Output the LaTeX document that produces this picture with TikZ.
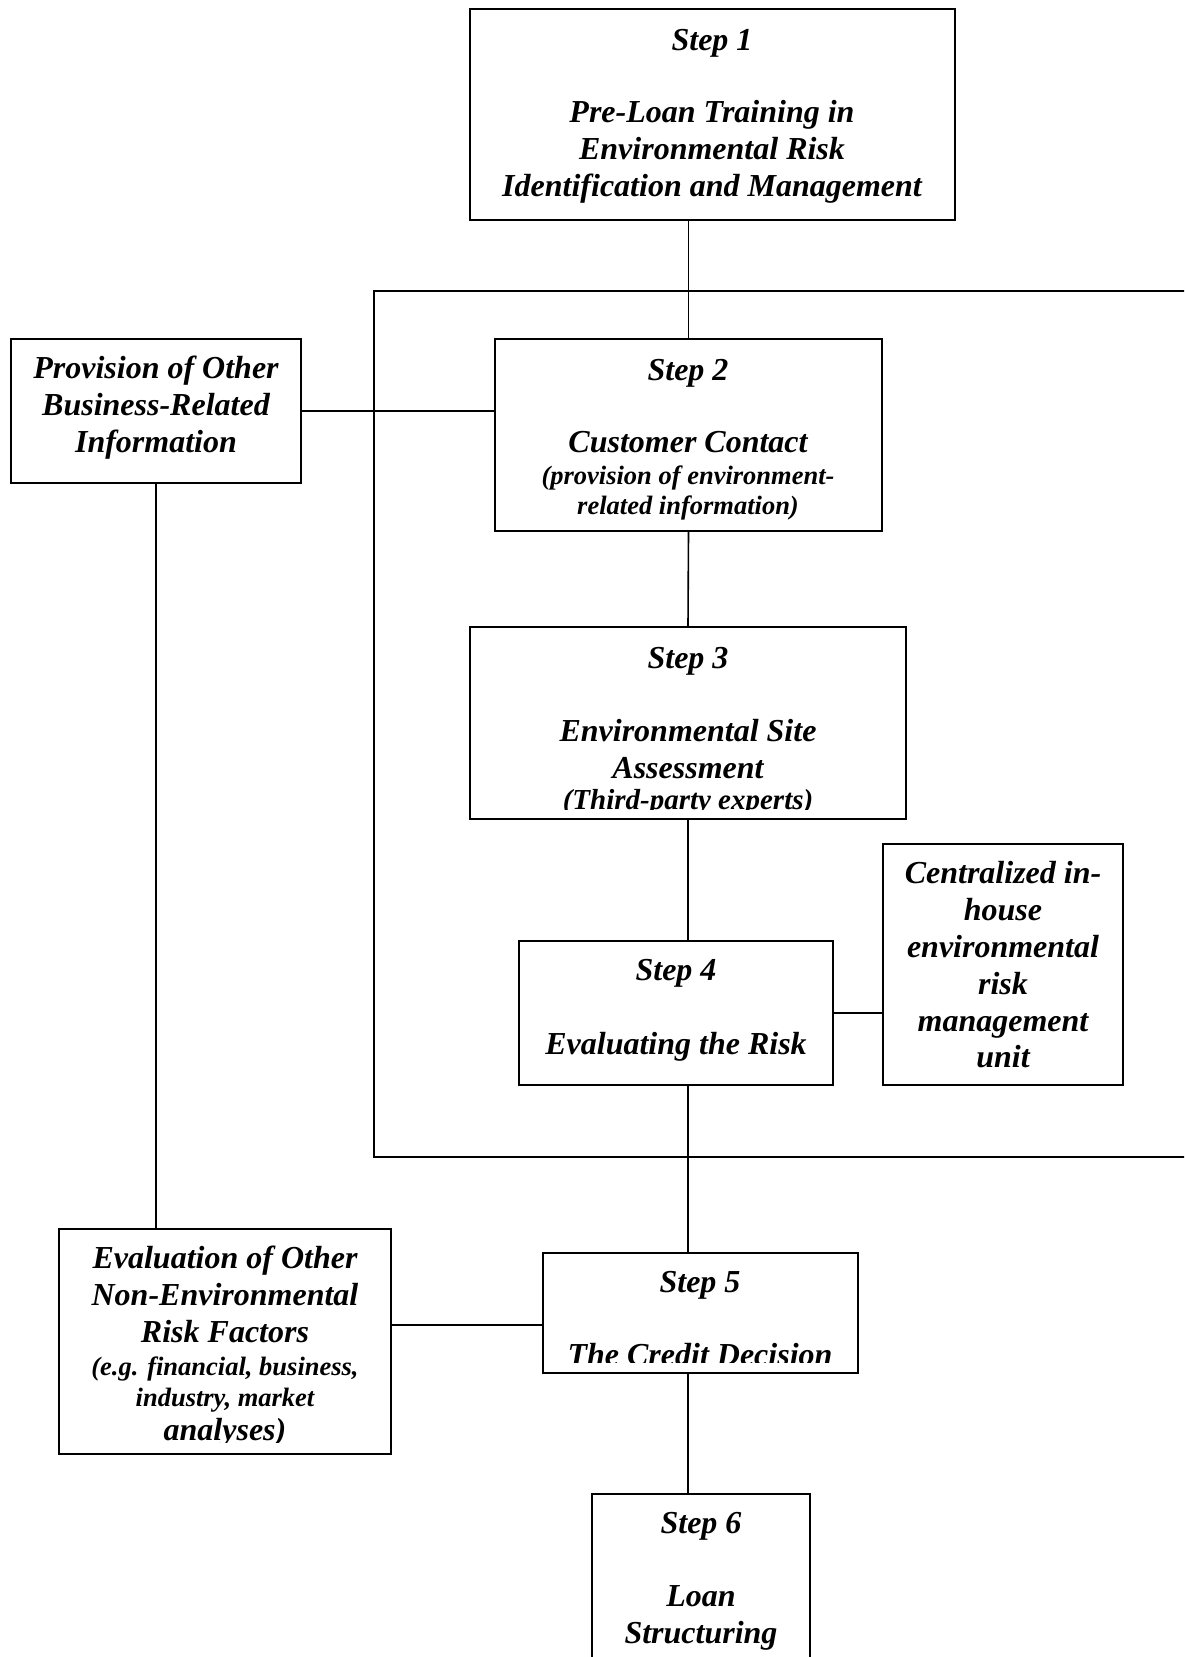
\documentclass[tikz,border=0pt]{standalone}
\usepackage{fontspec}
\setmainfont{Liberation Serif}
\usetikzlibrary{fit}
\begin{document}
\begin{tikzpicture}[x=1pt,y=-1pt,
  box/.style={draw=black,line width=2pt,inner sep=0pt,rectangle},
  conn/.style={draw=black,line width=1.6pt},
  lbl/.style={anchor=base,inner sep=0pt,font=\fontsize{32}{37}\selectfont\bfseries\itshape},
  lblsm/.style={anchor=base,inner sep=0pt,font=\fontsize{26.5}{31}\selectfont\bfseries\itshape},
  lblmd/.style={anchor=base,inner sep=0pt,font=\fontsize{29}{34}\selectfont\bfseries\itshape}]
\clip (0,0) rectangle (1184,1657);
\fill[white] (0,0) rectangle (1184,1657);

% enclosing frame around steps 2 to 4
\node[box,fit={(374,291) (1210,1157)}] (frame) {};

% boxes
\node[box,fit={(470,9) (955,220)}] (s1) {};
\node[box,fit={(495,339) (882,531)}] (s2) {};
\node[box,fit={(11,339) (301,483)}] (prov) {};
\node[box,fit={(470,627) (906,819)}] (s3) {};
\node[box,fit={(519,941) (833,1085)}] (s4) {};
\node[box,fit={(883,844) (1123,1085)}] (cu) {};
\node[box,fit={(543,1253) (858,1373)}] (s5) {};
\node[box,fit={(59,1229) (391,1454)}] (ev) {};
\node[box,fit={(592,1494) (810,1720)}] (s6) {};
\coordinate (j5) at (543,1325);

% connectors
\draw[conn] (s1.south -| s2.north) -- (s2.north);
\draw[conn] (prov.east) -- (prov.east -| s2.west);
\draw[conn] (prov.south) -- (prov.south |- ev.north);
\draw[conn] (s2.south) -- (s3.north);
\draw[conn] (s3.south) -- (s3.south |- s4.north);
\draw[conn] (s4.east) -- (s4.east -| cu.west);
\draw[conn] (s3.south |- s4.south) -- (s3.south |- s5.north);
\draw[conn] (j5 -| ev.east) -- (j5);
\draw[conn] (s3.south |- s5.south) -- (s3.south |- s6.north);

% Step 1
\node[lbl] (t1a) at (712,50) {Step 1};
\node[lbl] (t1b) at (712,122.6) {Pre-Loan Training in};
\node[lbl] (t1c) at (712,159.6) {Environmental Risk};
\node[lbl] (t1d) at (712,196.6) {Identification and Management};

% Step 2
\node[lbl] (t2a) at (688,380.6) {Step 2};
\node[lbl] (t2b) at (688,452.4) {Customer Contact};
\node[lblsm] (t2c) at (688,484.2) {(provision of environment-};
\node[lblsm] (t2d) at (688,514.8) {related information)};

% other business information
\node[lbl] (tpa) at (156,378.4) {Provision of Other};
\node[lbl] (tpb) at (156,415.4) {Business-Related};
\node[lbl] (tpc) at (156,452.4) {Information};

% Step 3
\node[lbl] (t3a) at (688,668) {Step 3};
\node[lbl] (t3b) at (688,741) {Environmental Site};
\node[lbl] (t3c) at (688,778) {Assessment};
\begin{scope}
  \clip (470,627) rectangle (906,809);
  \node[lblmd] (t3d) at (688,809.7) {(Third-party experts)};
\end{scope}

% Step 4
\node[lbl] (t4a) at (676,980) {Step 4};
\node[lbl] (t4b) at (676,1054) {Evaluating the Risk};

% in-house unit
\node[lbl] (tca) at (1003,883.7) {Centralized in-};
\node[lbl] (tcb) at (1003,920.7) {house};
\node[lbl] (tcc) at (1003,957.7) {environmental};
\node[lbl] (tcd) at (1003,994.7) {risk};
\node[lbl] (tce) at (1003,1031.7) {management};
\node[lbl] (tcf) at (1003,1067.7) {unit};

% Step 5
\node[lbl] (t5a) at (700,1292.8) {Step 5};
\begin{scope}
  \clip (543,1253) rectangle (858,1362);
  \node[lbl] (t5b) at (700,1365.8) {The Credit Decision};
\end{scope}

% non-environmental factors
\node[lbl] (tea) at (225,1268.5) {Evaluation of Other};
\node[lbl] (teb) at (225,1305.5) {Non-Environmental};
\node[lbl] (tec) at (225,1342.5) {Risk Factors};
\node[lblsm] (ted) at (225,1375.3) {(e.g. financial, business,};
\node[lblsm] (tee) at (225,1406) {industry, market};
\begin{scope}
  \clip (59,1229) rectangle (391,1442);
  \node[lbl] (tef) at (225,1440.8) {analyses)};
\end{scope}

% Step 6
\node[lbl] (t6a) at (701,1533.8) {Step 6};
\node[lbl] (t6b) at (701,1606.8) {Loan};
\node[lbl] (t6c) at (701,1643.8) {Structuring};
\end{tikzpicture}
\end{document}
